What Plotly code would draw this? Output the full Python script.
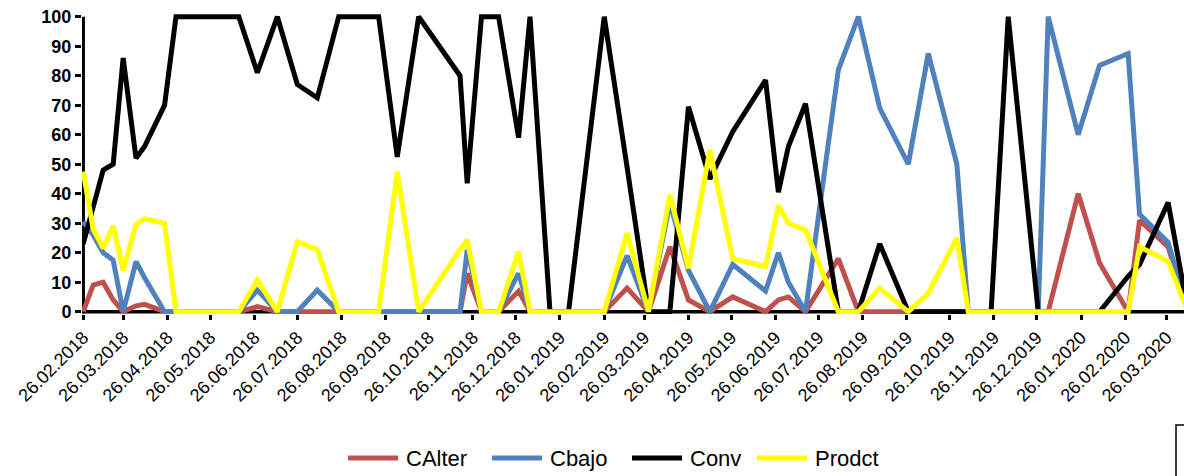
import plotly.graph_objects as go
from datetime import datetime

# ---- data ----
dates = ["2018-02-26", "2018-03-05", "2018-03-12", "2018-03-19", "2018-03-26", "2018-04-04",
         "2018-04-10", "2018-04-24", "2018-05-02", "2018-06-15", "2018-06-28", "2018-07-12",
         "2018-07-26", "2018-08-09", "2018-08-24", "2018-09-21", "2018-10-04", "2018-10-19",
         "2018-11-17", "2018-11-22", "2018-12-02", "2018-12-14", "2018-12-28", "2019-01-05",
         "2019-01-19", "2019-02-01", "2019-02-26", "2019-03-14", "2019-03-29", "2019-04-13",
         "2019-04-26", "2019-05-11", "2019-05-27", "2019-06-19", "2019-06-28", "2019-07-05",
         "2019-07-17", "2019-08-09", "2019-08-23", "2019-09-07", "2019-09-27", "2019-10-11",
         "2019-10-31", "2019-11-08", "2019-11-24", "2019-12-06", "2019-12-27", "2020-01-03",
         "2020-01-24", "2020-02-08", "2020-02-28", "2020-03-07", "2020-03-27", "2020-04-10"]

calter = [0, 9, 10, 4, 0, 2, 2.5, 0, 0, 0,
          1.7, 0, 0, 0, 0, 0, 0, 0, 0, 13,
          0, 0, 7, 0, 0, 0, 0, 8, 0, 22,
          4, 0, 5, 0, 4, 5, 0, 18, 0, 0,
          0, 0, 0, 0, 0, 0, 0, 0, 40, 16.5,
          0, 31, 22, 0]

cbajo = [30.5, 26, 20, 17.5, 0, 17, 11.5, 0, 0, 0,
         7.3, 0, 0, 7.3, 0, 0, 0, 0, 0, 21,
         0, 0, 13, 0, 0, 0, 0, 19, 0, 37,
         14, 0, 16, 7, 20, 10, 0, 82, 100, 69,
         50, 87.5, 50, 0, 0, 0, 0, 100, 60, 83.5,
         87.5, 33, 23.5, 0]

conv = [23, 35, 48, 50, 86, 52, 56, 70, 100, 100,
        81, 100, 77, 72.5, 100, 100, 52.5, 100, 80, 43.5,
        100, 100, 59, 100, 0, 0, 100, 49, 0, 0,
        69.5, 45, 61, 78.5, 40.5, 56, 70.5, 0, 0, 23,
        0, 0, 0, 0, 0, 100, 0, 0, 0, 0,
        12, 16, 37, 0]

prodct = [47.5, 28, 21.5, 29, 14, 29.5, 31.5, 30, 0, 0,
          10.7, 0, 23.7, 21, 0, 0, 47.5, 0, 21, 24.3,
          0, 0, 20.3, 0, 0, 0, 0, 26.6, 0, 39.6,
          14.7, 54.8, 18, 15.3, 36, 30, 27.7, 0, 0, 8,
          0, 6.2, 25, 0, 0, 0, 0, 0, 0, 0,
          0, 22, 17, 0]

series_names = ["CAlter", "Cbajo", "Conv", "Prodct"]
series_colors = ["#C0504D", "#4F81BD", "#000000", "#FFFF00"]

tick_labels = ["26.02.2018", "26.03.2018", "26.04.2018", "26.05.2018", "26.06.2018",
               "26.07.2018", "26.08.2018", "26.09.2018", "26.10.2018", "26.11.2018",
               "26.12.2018", "26.01.2019", "26.02.2019", "26.03.2019", "26.04.2019",
               "26.05.2019", "26.06.2019", "26.07.2019", "26.08.2019", "26.09.2019",
               "26.10.2019", "26.11.2019", "26.12.2019", "26.01.2020", "26.02.2020",
               "26.03.2020"]
y_ticks = [0, 10, 20, 30, 40, 50, 60, 70, 80, 90, 100]

# ---- layout constants (pixels) ----
W, H = 1184, 476
ML, MR, MT, MB = 82, 0, 13, 162
PW, PH = W - ML - MR, H - MT - MB
FONT = "Liberation Sans"
legend_x_px = [348, 492, 632, 757]   # start of each legend line sample
legend_y_px = 458


def px_to_paper(px, py):
    return (px - ML) / PW, (H - MB - py) / PH


# ---- figure ----
tick_vals = [datetime.strptime(t, "%d.%m.%Y").strftime("%Y-%m-%d") for t in tick_labels]
all_series = [calter, cbajo, conv, prodct]

fig = go.Figure()
for name, vals, col in zip(series_names, all_series, series_colors):
    fig.add_trace(go.Scatter(x=dates, y=vals, mode="lines", name=name,
                             line=dict(color=col, width=5), showlegend=False))

X0 = "2018-02-25 04:00"
X1 = "2020-04-07 03:20"

shapes = [
    dict(type="line", xref="x", yref="y", x0="2018-02-26", x1=X1, y0=0, y1=0,
         line=dict(color="black", width=3.5), layer="below"),
    dict(type="line", xref="x", yref="y", x0="2018-02-26", x1="2018-02-26", y0=-0.6, y1=100,
         line=dict(color="black", width=3.5), layer="below"),
]
bx0, by0 = px_to_paper(1176, 425)
bx1, by1 = px_to_paper(1200, 490)
shapes.append(dict(type="rect", xref="paper", yref="paper", x0=bx0, x1=bx1, y0=by1, y1=by0,
                   line=dict(color="black", width=1.5), fillcolor="rgba(0,0,0,0)"))

annotations = []
for name, col, lx in zip(series_names, series_colors, legend_x_px):
    ax0, ay = px_to_paper(lx, legend_y_px)
    ax1, _ = px_to_paper(lx + 50, legend_y_px)
    shapes.append(dict(type="line", xref="paper", yref="paper", x0=ax0, x1=ax1, y0=ay, y1=ay,
                       line=dict(color=col, width=5)))
    tx, _ = px_to_paper(lx + 56, legend_y_px)
    annotations.append(dict(xref="paper", yref="paper", x=tx, y=ay, text=name,
                            showarrow=False, xanchor="left", yanchor="middle",
                            font=dict(family=FONT, size=22, color="black")))

fig.update_layout(
    width=W, height=H,
    margin=dict(l=ML, r=MR, t=MT, b=MB, autoexpand=False),
    plot_bgcolor="white", paper_bgcolor="white",
    showlegend=False,
    shapes=shapes,
    annotations=annotations,
)
fig.update_xaxes(type="date", range=[X0, X1], tickmode="array", tickvals=tick_vals,
                 ticktext=tick_labels, tickangle=-45, ticks="outside", ticklen=5,
                 tickwidth=3, tickcolor="black", showgrid=False, showline=False,
                 zeroline=False, automargin=False,
                 tickfont=dict(family=FONT, size=18, color="black"))
fig.update_yaxes(range=[-0.78, 101.25], tickmode="array", tickvals=y_ticks,
                 ticks="outside", ticklen=6, tickwidth=3, tickcolor="black",
                 showgrid=False, showline=False, zeroline=False, automargin=False,
                 tickfont=dict(family=FONT, size=18, color="black", weight="bold"))

fig.write_html("out.html",
               config={"displayModeBar": False},
               post_script="document.body.style.margin='0';document.body.style.padding='0';")
